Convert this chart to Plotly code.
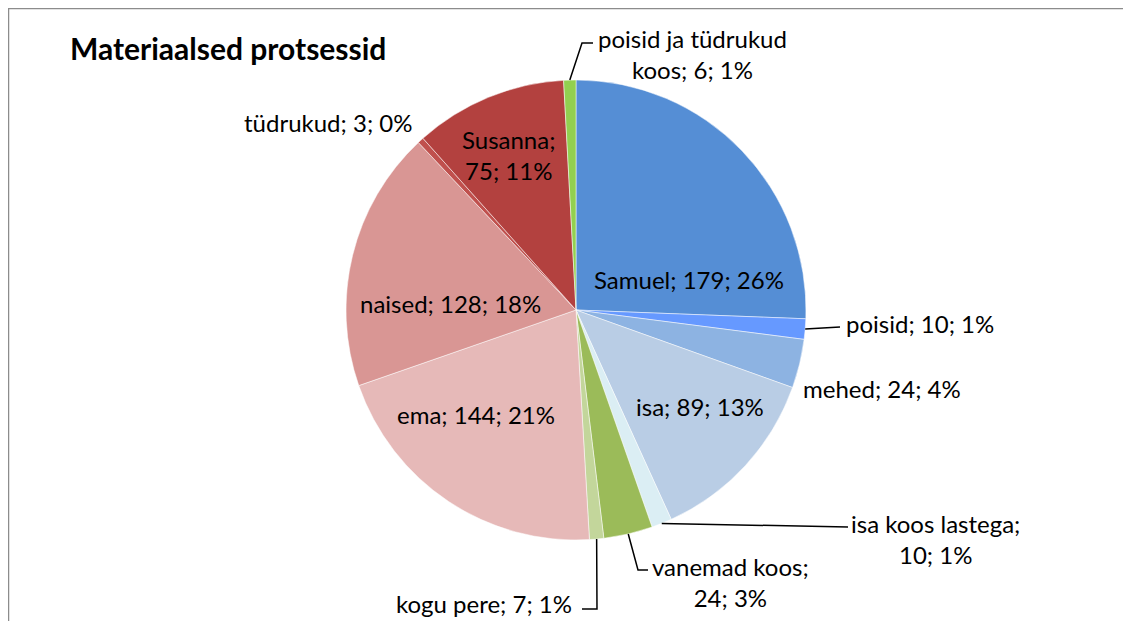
import math
import plotly.graph_objects as go

# ---- data ----
labels = ["Samuel", "poisid", "mehed", "isa", "isa koos lastega", "vanemad koos",
          "kogu pere", "ema", "naised", "tüdrukud", "Susanna", "poisid ja tüdrukud koos"]
values = [179, 10, 24, 89, 10, 24, 7, 144, 128, 3, 75, 6]
percent_text = ["26%", "1%", "4%", "13%", "1%", "3%", "1%", "21%", "18%", "0%", "11%", "1%"]
colors = ["#558ED5", "#6699FF", "#8DB3E2", "#B9CDE5", "#DBEEF4", "#9BBB59",
          "#C3D69B", "#E6B9B8", "#D99694", "#C0504D", "#B3413F", "#92D050"]
title = "Materiaalsed protsessid"

# ---- layout / style (pixels, page coordinates) ----
W, H = 1131, 621
OFF = 8  # page body margin
CX, CY, R = 576, 310, 230
FONT = "Lato"
FS = 24

label_text = {
    "Samuel": "Samuel; 179; 26%",
    "poisid": "poisid; 10; 1%",
    "mehed": "mehed; 24; 4%",
    "isa": "isa; 89; 13%",
    "isa koos lastega": "isa koos lastega;<br>10; 1%",
    "vanemad koos": "vanemad koos;<br>24; 3%",
    "kogu pere": "kogu pere; 7; 1%",
    "ema": "ema; 144; 21%",
    "naised": "naised; 128; 18%",
    "tüdrukud": "tüdrukud; 3; 0%",
    "Susanna": "Susanna;<br>75; 11%",
    "poisid ja tüdrukud koos": "poisid ja tüdrukud<br>koos; 6; 1%",
}
label_pos = {
    "Samuel": (689, 280),
    "poisid": (920, 323),
    "mehed": (882, 388),
    "isa": (700, 406),
    "isa koos lastega": (935, 539),
    "vanemad koos": (730, 582),
    "kogu pere": (484, 603),
    "ema": (476, 414),
    "naised": (450, 303),
    "tüdrukud": (328, 123),
    "Susanna": (508, 155),
    "poisid ja tüdrukud koos": (692, 54),
}
leader_pts = {
    "poisid": [(840, 327)],
    "isa koos lastega": [(848, 527)],
    "vanemad koos": [(638, 570), (648, 570)],
    "kogu pere": [(597, 609), (582, 609)],
    "poisid ja tüdrukud koos": [(582, 43), (593, 43)],
}


def px(x):
    return (x - OFF) / W


def py(y):
    return 1 - (y - OFF) / H


fig = go.Figure(go.Pie(
    labels=labels, values=values, sort=False, direction="clockwise", rotation=0,
    marker=dict(colors=colors, line=dict(color="white", width=0.5)),
    textinfo="none", hoverinfo="label+value+percent", showlegend=False,
    domain=dict(x=[px(CX - R), px(CX + R)], y=[py(CY + R), py(CY - R)]),
))

total = sum(values)
cum = 0
shapes = []
annotations = []
for lab, v in zip(labels, values):
    mid = (cum + v / 2) / total * 2 * math.pi
    cum += v
    ax = CX + R * math.sin(mid)
    ay = CY - R * math.cos(mid)
    if lab in leader_pts:
        pts = [(ax, ay)] + leader_pts[lab]
        path = "M " + " L ".join(f"{px(x)},{py(y)}" for x, y in pts)
        shapes.append(dict(type="path", path=path, xref="paper", yref="paper",
                           line=dict(color="black", width=1.5)))
    lx, ly = label_pos[lab]
    annotations.append(dict(text=label_text[lab], x=px(lx), y=py(ly), xref="paper", yref="paper",
                            xanchor="center", yanchor="middle", showarrow=False, align="center",
                            font=dict(family=FONT, size=FS, color="black")))

annotations.append(dict(text="<b>" + title + "</b>", x=px(68), y=py(48), xref="paper", yref="paper",
                        xanchor="left", yanchor="middle", showarrow=False,
                        font=dict(family=FONT, size=30, color="black")))

# chart area border
shapes.append(dict(type="path", xref="paper", yref="paper",
                   path=f"M {px(8.5)},{py(640)} L {px(8.5)},{py(8.5)} L {px(1150)},{py(8.5)}",
                   line=dict(color="#8C8C8C", width=1.5)))

fig.update_layout(
    width=W, height=H, margin=dict(l=0, r=0, t=0, b=0),
    paper_bgcolor="white", plot_bgcolor="white",
    shapes=shapes, annotations=annotations,
)

fig.write_html("out.html")
